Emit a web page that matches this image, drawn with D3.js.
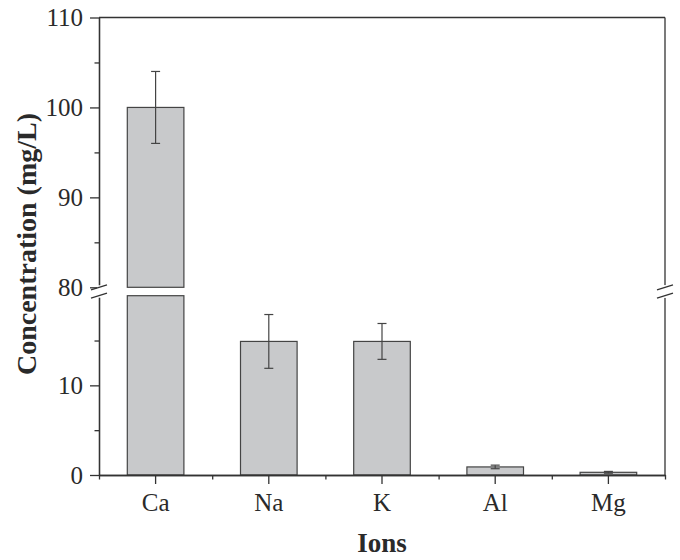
<!DOCTYPE html>
<html>
<head>
<meta charset="utf-8">
<script src="https://cdn.jsdelivr.net/npm/d3@7"></script>
<style>
  body { margin: 0; background: #fff; }
  svg { display: block; }
  .axis text { font-family: "Liberation Serif", "Times New Roman", serif; font-size: 25px; fill: #2a2a2a; }
  .axis path, .axis line { stroke: #333; stroke-width: 1.3; }
</style>
</head>
<body>
<div id="chart"></div>
<script>
// data
var ions = ["Ca", "Na", "K", "Al", "Mg"];
var conc = [100, 14.9, 14.9, 0.9, 0.3];
var err = [4, 3, 2, 0.2, 0.1];
var upperTicks = [80, 90, 100, 110];
var upperMinor = [85, 95, 105];
var lowerTicks = [0, 10];
var lowerMinor = [5, 15];

var W = 680, H = 560;
var plotL = 99, plotR = 665, plotT = 17.5, plotB = 475;
var breakTop = 287.3, breakBot = 295.7; // the gap of the broken axis

var svg = d3.select("#chart").append("svg")
  .attr("width", W).attr("height", H);

var x = d3.scaleBand().domain(ions).range([plotL, plotR])
  .paddingInner(0.5).paddingOuter(0.25);
var xEdge = d3.scaleLinear().domain([0, ions.length]).range([plotL, plotR]);

var yUp = d3.scaleLinear().domain([80, 110]).range([breakTop, plotT]);
var yLo = d3.scaleLinear().domain([0, 20]).range([plotB, breakBot]);

// bars (Ca goes through the break, so draw two pieces)
var data = ions.map(function(d, i){ return {ion: d, v: conc[i], e: err[i]}; });
var barStyle = function(sel){
  sel.attr("fill", "#c8c9cb").attr("stroke", "#444").attr("stroke-width", 1.2);
};

svg.selectAll("rect.lo").data(data).enter().append("rect")
  .attr("class", "lo")
  .attr("x", function(d){ return x(d.ion); })
  .attr("width", x.bandwidth())
  .attr("y", function(d){ return d.v > 20 ? breakBot : yLo(d.v); })
  .attr("height", function(d){ return plotB - (d.v > 20 ? breakBot : yLo(d.v)); })
  .call(barStyle);

svg.selectAll("rect.up").data(data.filter(function(d){ return d.v > 80; })).enter().append("rect")
  .attr("class", "up")
  .attr("x", function(d){ return x(d.ion); })
  .attr("width", x.bandwidth())
  .attr("y", function(d){ return yUp(d.v); })
  .attr("height", function(d){ return breakTop - yUp(d.v); })
  .call(barStyle);

// white band over the break so the bar edges stop cleanly
svg.append("rect")
  .attr("x", plotL + 2).attr("width", plotR - plotL - 4)
  .attr("y", breakTop + 0.8).attr("height", breakBot - breakTop - 1.6)
  .attr("fill", "#fff");

// error bars
function yAny(v){ return v > 20 ? yUp(v) : yLo(v); }
var eb = svg.selectAll("g.err").data(data).enter().append("g")
  .attr("class", "err")
  .attr("stroke", "#444").attr("stroke-width", 1.2);
eb.append("line")
  .attr("x1", function(d){ return x(d.ion) + x.bandwidth() / 2; })
  .attr("x2", function(d){ return x(d.ion) + x.bandwidth() / 2; })
  .attr("y1", function(d){ return yAny(d.v - d.e); })
  .attr("y2", function(d){ return yAny(d.v + d.e); });
[-1, 1].forEach(function(s){
  eb.append("line")
    .attr("x1", function(d){ return x(d.ion) + x.bandwidth() / 2 - 4.5; })
    .attr("x2", function(d){ return x(d.ion) + x.bandwidth() / 2 + 4.5; })
    .attr("y1", function(d){ return yAny(d.v + s * d.e); })
    .attr("y2", function(d){ return yAny(d.v + s * d.e); });
});

// y axes, upper and lower segment
function yAxis(scale, vals, size, labels){
  var a = d3.axisLeft(scale).tickValues(vals).tickSize(size).tickPadding(7).tickSizeOuter(0);
  if (!labels) a.tickFormat("");
  svg.append("g").attr("class", "axis")
    .attr("transform", "translate(" + plotL + ",0)")
    .call(a);
}
yAxis(yUp, upperTicks, 9, true);
yAxis(yUp, upperMinor, 4.5, false);
yAxis(yLo, lowerTicks, 9, true);
yAxis(yLo, lowerMinor, 4.5, false);

// x axis
svg.append("g").attr("class", "axis")
  .attr("transform", "translate(0," + plotB + ")")
  .call(d3.axisBottom(x).tickSize(9).tickPadding(9).tickSizeOuter(0));
svg.append("g").attr("class", "axis")
  .attr("transform", "translate(0," + plotB + ")")
  .call(d3.axisBottom(xEdge).tickValues(d3.range(ions.length + 1)).tickSize(4.5).tickFormat("").tickSizeOuter(0));

// frame: top and right (right one broken too)
var frame = svg.append("g").attr("stroke", "#333").attr("stroke-width", 1.3).attr("fill", "none");
frame.append("line").attr("x1", plotL).attr("x2", plotR).attr("y1", plotT).attr("y2", plotT);
frame.append("line").attr("x1", plotR).attr("x2", plotR).attr("y1", plotT).attr("y2", breakTop - 2);
frame.append("line").attr("x1", plotR).attr("x2", plotR).attr("y1", breakBot + 2).attr("y2", plotB);

// cover the axis line in the gap, then the break slashes
[plotL, plotR].forEach(function(ax){
  svg.append("rect").attr("x", ax - 2).attr("width", 4)
    .attr("y", breakTop - 2).attr("height", breakBot - breakTop + 4).attr("fill", "#fff");
  [breakTop, breakBot].forEach(function(yb){
    svg.append("line")
      .attr("x1", ax - 8).attr("y1", yb + 2.5)
      .attr("x2", ax + 8).attr("y2", yb - 2.5)
      .attr("stroke", "#333").attr("stroke-width", 1.3);
  });
});

// axis titles
svg.append("text")
  .attr("transform", "translate(36,244) rotate(-90)")
  .attr("text-anchor", "middle")
  .style("font-family", "'Liberation Serif', 'Times New Roman', serif")
  .style("font-size", "28px").style("font-weight", "bold").style("fill", "#2a2a2a")
  .text("Concentration (mg/L)");

svg.append("text")
  .attr("x", (plotL + plotR) / 2).attr("y", 552)
  .attr("text-anchor", "middle")
  .style("font-family", "'Liberation Serif', 'Times New Roman', serif")
  .style("font-size", "27px").style("font-weight", "bold").style("fill", "#2a2a2a")
  .text("Ions");
</script>
</body>
</html>
